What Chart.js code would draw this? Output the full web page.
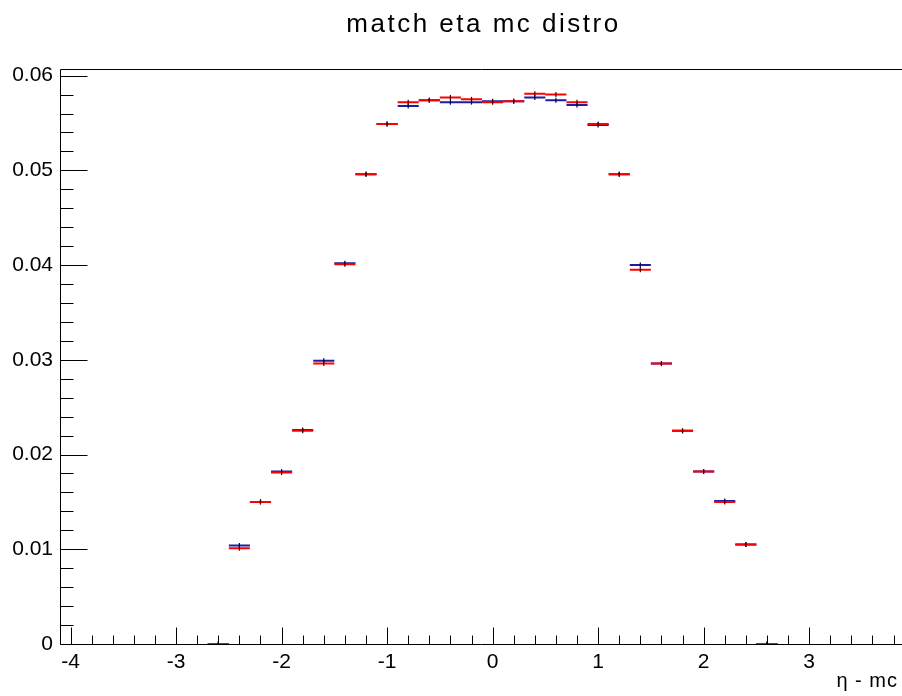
<!DOCTYPE html>
<html>
<head>
<meta charset="utf-8">
<title>match eta mc distro</title>
<script src="https://cdn.jsdelivr.net/npm/chart.js@4.4.1/dist/chart.umd.min.js"></script>
<style>
  html, body { margin: 0; padding: 0; background: #fff; overflow: hidden; }
  canvas { display: block; }
</style>
</head>
<body>
<canvas id="etaChart" width="902" height="696"></canvas>
<script>
// bin centres in eta, each bin is 0.2 wide
const binCenters = [-2.6, -2.4, -2.2, -2.0, -1.8, -1.6, -1.4, -1.2, -1.0, -0.8, -0.6, -0.4, -0.2, 0.0,
                    0.2, 0.4, 0.6, 0.8, 1.0, 1.2, 1.4, 1.6, 1.8, 2.0, 2.2, 2.4, 2.6];
const binWidth = 0.2;

// red histogram
const matchValues = [0, 0.0101, 0.0150, 0.0181, 0.0225, 0.0296, 0.0401, 0.0496, 0.0549, 0.0572, 0.0574, 0.0577, 0.0575, 0.0572,
                     0.0573, 0.0581, 0.0580, 0.0572, 0.0549, 0.0496, 0.0395, 0.0296, 0.0225, 0.0182, 0.0150, 0.0105, 0];
// blue histogram
const mcValues = [0, 0.0104, 0.0150, 0.0182, 0.0226, 0.0299, 0.0402, 0.0496, 0.0549, 0.0568, 0.0574, 0.0572, 0.0572, 0.0573,
                  0.0573, 0.0577, 0.0574, 0.0569, 0.0548, 0.0496, 0.0400, 0.0296, 0.0225, 0.0182, 0.0151, 0.0105, 0];

const xTickValues = [-4, -3, -2, -1, 0, 1, 2, 3];
const yTickValues = [0, 0.01, 0.02, 0.03, 0.04, 0.05, 0.06];

const chartTitle = "match eta mc distro";
const xAxisTitle = "η - mc";

const FONT = "'Liberation Sans', Arial, Helvetica, sans-serif";

// horizontal error bar per bin, broken by a null point
function toSegments(values) {
    let pts = [];
    binCenters.forEach((c, i) => {
        pts.push({ x: c - binWidth / 2, y: values[i] });
        pts.push({ x: c + binWidth / 2, y: values[i] });
        pts.push({ x: c + binWidth / 2, y: null });
    });
    return pts;
}

function toCenters(values) {
    return binCenters.map((c, i) => ({ x: c, y: values[i] }));
}

// ROOT style frame: ticks pointing inwards, plus title texts
const rootFrame = {
    id: "rootFrame",
    afterDraw(chart) {
        const { ctx, chartArea: a, scales: { x, y } } = chart;
        ctx.save();
        ctx.strokeStyle = "#000";
        ctx.lineWidth = 1;
        ctx.beginPath();
        const left = Math.round(a.left) + 0.5;
        const top = Math.round(a.top) + 0.5;
        const bottom = Math.round(a.bottom) + 0.5;
        const right = Math.round(a.right) + 0.5;
        ctx.moveTo(left, bottom); ctx.lineTo(left, top); ctx.lineTo(right, top); ctx.lineTo(right, bottom); ctx.lineTo(left, bottom);

        // x ticks every 0.2, major every 1
        for (let k = -20; k <= 19; k++) {
            const px = Math.round(x.getPixelForValue(k / 5)) + 0.5;
            const len = (k % 5 === 0) ? 17 : 9;
            ctx.moveTo(px, bottom);
            ctx.lineTo(px, bottom - len);
        }
        // y ticks every 0.002, major every 0.01
        for (let k = 0; k <= 30; k++) {
            const py = Math.round(y.getPixelForValue(k * 0.002)) + 0.5;
            const len = (k % 5 === 0) ? 27 : 13;
            ctx.moveTo(left, py);
            ctx.lineTo(left + len, py);
        }
        ctx.stroke();

        ctx.fillStyle = "#000";
        ctx.textBaseline = "alphabetic";

        ctx.font = "26px " + FONT;
        ctx.letterSpacing = "2.5px";
        ctx.textAlign = "center";
        ctx.fillText(chartTitle, 483.5, 32);

        ctx.font = "20px " + FONT;
        ctx.letterSpacing = "1px";
        ctx.textAlign = "right";
        ctx.fillText(xAxisTitle, 898, 687);
        ctx.restore();
    }
};

const ctx = document.getElementById("etaChart").getContext("2d");

new Chart(ctx, {
    type: "line",
    data: {
        datasets: [
            {
                type: "scatter",
                data: toCenters(matchValues),
                pointStyle: "line",
                rotation: 90,
                radius: 2.5,
                borderWidth: 1.2,
                borderColor: "#4a0000",
                backgroundColor: "#4a0000"
            },
            {
                type: "scatter",
                data: toCenters(mcValues),
                pointStyle: "line",
                rotation: 90,
                radius: 2.5,
                borderWidth: 1.2,
                borderColor: "#000050",
                backgroundColor: "#000050"
            },
            {
                data: toSegments(matchValues),
                borderColor: "#ff0000",
                borderWidth: 2,
                pointRadius: 0,
                spanGaps: false,
                clip: false,
                fill: false
            },
            {
                data: toSegments(mcValues),
                borderColor: "#1e1ea0",
                borderWidth: 2,
                pointRadius: 0,
                spanGaps: false,
                clip: false,
                fill: false
            }
        ]
    },
    options: {
        responsive: false,
        animation: false,
        events: [],
        layout: { autoPadding: false, padding: { top: 69, right: 0, left: 0, bottom: 0 } },
        plugins: {
            legend: { display: false },
            tooltip: { enabled: false },
            title: { display: false }
        },
        scales: {
            x: {
                type: "linear",
                min: -4.1,
                max: 3.88,
                grid: { display: false, drawTicks: false },
                border: { display: false },
                afterBuildTicks: s => { s.ticks = xTickValues.map(v => ({ value: v })); },
                afterFit: s => { s.height = 52; },
                ticks: {
                    autoSkip: false,
                    maxRotation: 0,
                    padding: 6,
                    color: "#000",
                    font: { family: FONT, size: 21 },
                    callback: v => String(v)
                }
            },
            y: {
                type: "linear",
                min: 0,
                max: 0.0607,
                grid: { display: false, drawTicks: false },
                border: { display: false },
                afterBuildTicks: s => { s.ticks = yTickValues.map(v => ({ value: v })); },
                afterFit: s => { s.width = 60; },
                ticks: {
                    autoSkip: false,
                    padding: 7,
                    color: "#000",
                    font: { family: FONT, size: 21 },
                    callback: v => (v === 0 ? "0" : v.toFixed(2))
                }
            }
        }
    },
    plugins: [rootFrame]
});
</script>
</body>
</html>
